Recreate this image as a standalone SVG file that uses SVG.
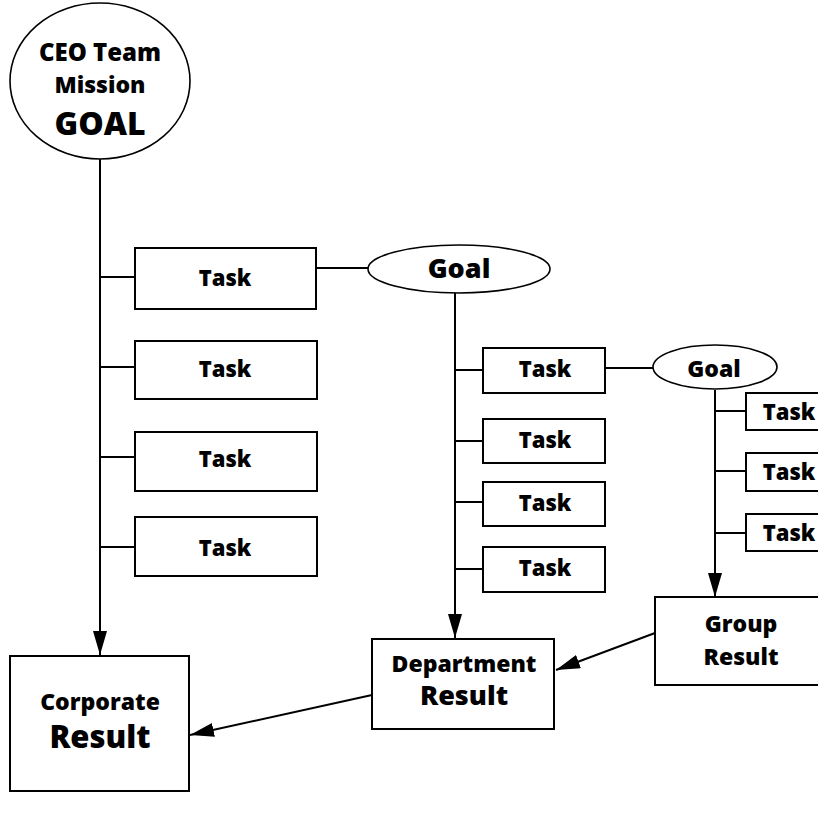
<svg xmlns="http://www.w3.org/2000/svg" width="818" height="815" viewBox="0 0 818 815">
  <style>
    .box { fill: #fff; stroke: #000; stroke-width: 2; }
    .oval { fill: #fff; stroke: #000; stroke-width: 1.6; }
    .ln { fill: none; stroke: #000; stroke-width: 2; }
    text { font-family: "Open Sans", Lato, "DejaVu Sans", sans-serif; font-weight: 800; fill: #000; text-anchor: middle; }
    .t { font-size: 22px; }
  </style>
  <defs>
    <marker id="arrow" markerUnits="userSpaceOnUse" markerWidth="24" markerHeight="14" viewBox="0 0 24 14" refX="24" refY="7" orient="auto">
      <path d="M0,0 L24,7 L0,14 Z" fill="#000"/>
    </marker>
  </defs>
  <rect width="818" height="815" fill="#fff"/>

  <!-- connectors -->
  <g id="connectors">
    <!-- CEO trunk -->
    <line class="ln" x1="100" y1="159" x2="100" y2="655" marker-end="url(#arrow)"/>
    <line class="ln" x1="100" y1="277" x2="135" y2="277"/>
    <line class="ln" x1="100" y1="367" x2="135" y2="367"/>
    <line class="ln" x1="100" y1="457" x2="135" y2="457"/>
    <line class="ln" x1="100" y1="547" x2="135" y2="547"/>
    <line class="ln" x1="316" y1="268" x2="368" y2="268"/>
    <!-- department trunk -->
    <line class="ln" x1="455" y1="293" x2="455" y2="638" marker-end="url(#arrow)"/>
    <line class="ln" x1="455" y1="370" x2="483" y2="370"/>
    <line class="ln" x1="455" y1="441" x2="483" y2="441"/>
    <line class="ln" x1="455" y1="502" x2="483" y2="502"/>
    <line class="ln" x1="455" y1="569" x2="483" y2="569"/>
    <line class="ln" x1="605" y1="368" x2="653" y2="368"/>
    <!-- group trunk -->
    <line class="ln" x1="715" y1="390" x2="715" y2="597" marker-end="url(#arrow)"/>
    <line class="ln" x1="715" y1="411" x2="746" y2="411"/>
    <line class="ln" x1="715" y1="471" x2="746" y2="471"/>
    <line class="ln" x1="715" y1="533" x2="746" y2="533"/>
    <!-- results -->
    <line class="ln" x1="655" y1="633" x2="556" y2="670" marker-end="url(#arrow)"/>
    <line class="ln" x1="372" y1="695" x2="190" y2="735" marker-end="url(#arrow)"/>
  </g>

  <g id="ceo-goal">
    <ellipse class="oval" cx="100" cy="81" rx="90" ry="78"/>
    <text x="100" y="61" style="font-size:24px">CEO Team</text>
    <text x="100" y="93" style="font-size:23px">Mission</text>
    <text x="100" y="135" style="font-size:32px">GOAL</text>
  </g>

  <g id="task-a1"><rect class="box" x="135" y="248" width="181" height="61"/><text class="t" x="225" y="286">Task</text></g>
  <g id="task-a2"><rect class="box" x="135" y="341" width="182" height="58"/><text class="t" x="225" y="377">Task</text></g>
  <g id="task-a3"><rect class="box" x="135" y="432" width="182" height="59"/><text class="t" x="225" y="467">Task</text></g>
  <g id="task-a4"><rect class="box" x="135" y="517" width="182" height="59"/><text class="t" x="225" y="556">Task</text></g>

  <g id="goal-dept">
    <ellipse class="oval" cx="459" cy="269" rx="91" ry="24"/>
    <text x="459" y="278" style="font-size:27px">Goal</text>
  </g>

  <g id="task-b1"><rect class="box" x="483" y="348" width="122" height="45"/><text class="t" x="545" y="377">Task</text></g>
  <g id="task-b2"><rect class="box" x="483" y="419" width="122" height="44"/><text class="t" x="545" y="448">Task</text></g>
  <g id="task-b3"><rect class="box" x="483" y="482" width="122" height="44"/><text class="t" x="545" y="511">Task</text></g>
  <g id="task-b4"><rect class="box" x="483" y="547" width="122" height="45"/><text class="t" x="545" y="576">Task</text></g>

  <g id="goal-group">
    <ellipse class="oval" cx="715" cy="367" rx="62" ry="22"/>
    <text x="714" y="377" style="font-size:23px">Goal</text>
  </g>

  <g id="task-c1"><rect class="box" x="746" y="393" width="90" height="37"/><text class="t" x="789" y="420">Task</text></g>
  <g id="task-c2"><rect class="box" x="746" y="453" width="90" height="38"/><text class="t" x="789" y="480">Task</text></g>
  <g id="task-c3"><rect class="box" x="746" y="514" width="90" height="37"/><text class="t" x="789" y="541">Task</text></g>

  <g id="group-result">
    <rect class="box" x="655" y="597" width="180" height="88"/>
    <text x="741" y="632" style="font-size:23px">Group</text>
    <text x="741" y="665" style="font-size:23px">Result</text>
  </g>

  <g id="department-result">
    <rect class="box" x="372" y="639" width="182" height="90"/>
    <text x="464" y="672" style="font-size:23px">Department</text>
    <text x="464" y="705" style="font-size:27px">Result</text>
  </g>

  <g id="corporate-result">
    <rect class="box" x="10" y="656" width="179" height="135"/>
    <text x="100" y="710" style="font-size:23px">Corporate</text>
    <text x="100" y="748" style="font-size:31px">Result</text>
  </g>
</svg>
